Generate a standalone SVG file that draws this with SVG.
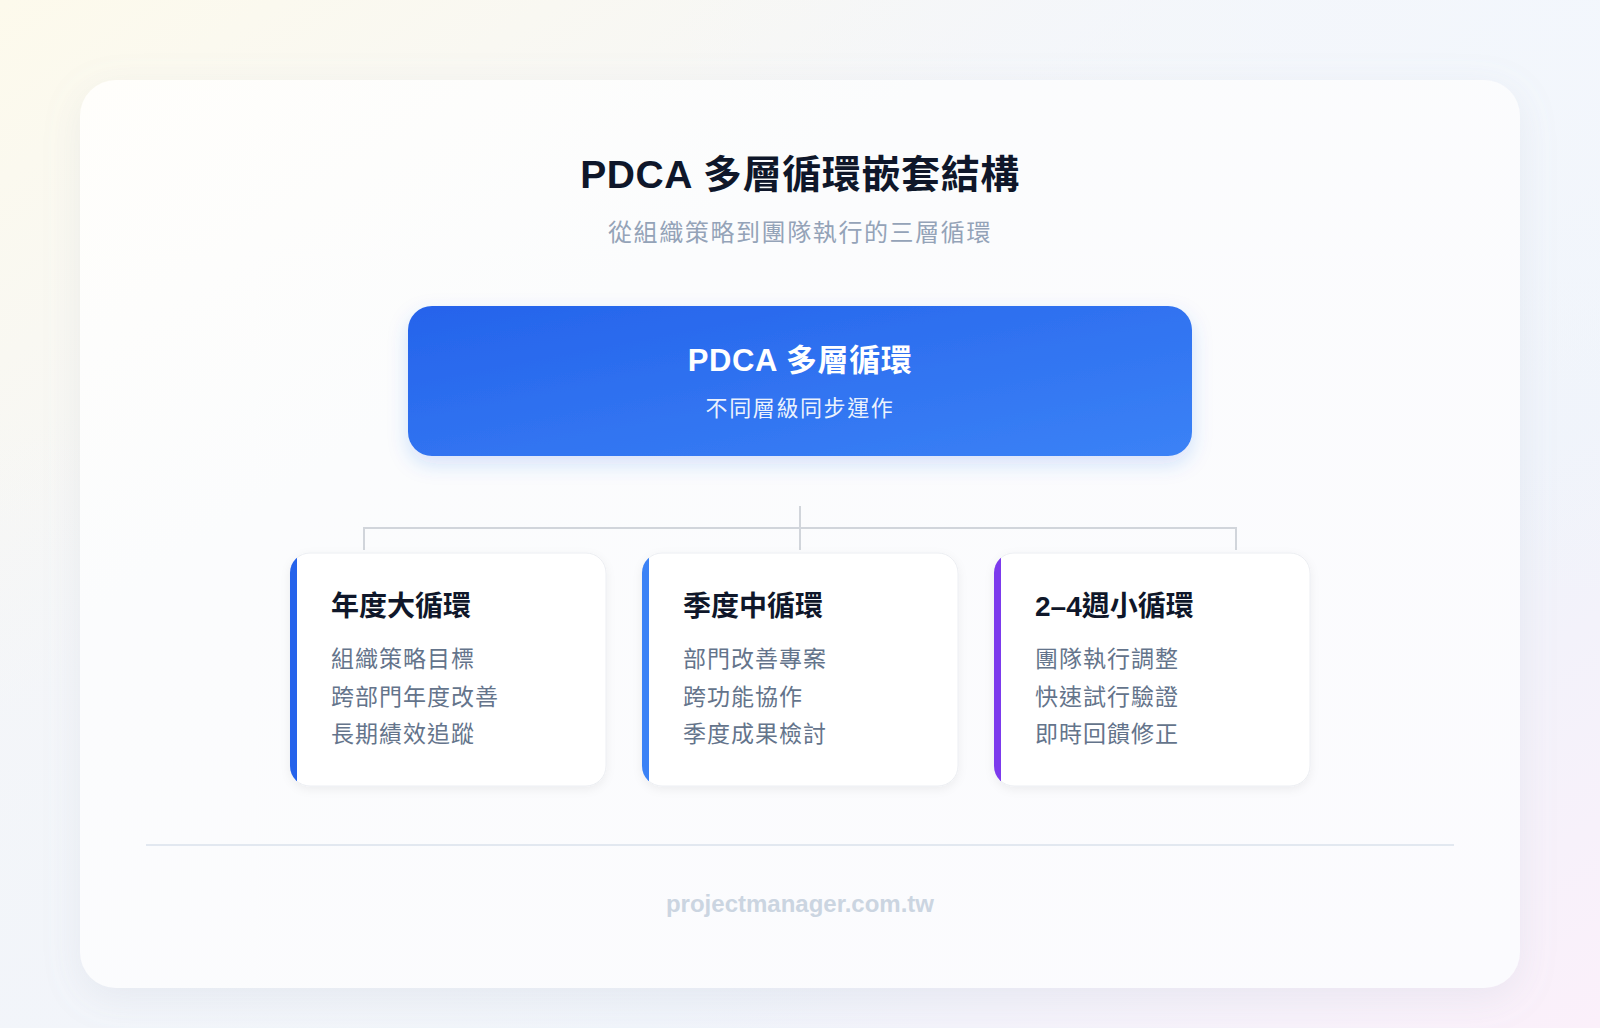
<svg xmlns="http://www.w3.org/2000/svg" width="1600" height="1028" viewBox="0 0 1600 1028">
  <defs>
    <linearGradient id="bgA" x1="0" y1="0" x2="1" y2="1">
      <stop offset="0" stop-color="#fdfaec"/>
      <stop offset="0.35" stop-color="#f5f6f8"/>
      <stop offset="0.7" stop-color="#eff3fa"/>
      <stop offset="1" stop-color="#fbf0fa"/>
    </linearGradient>
    <radialGradient id="bgTR" cx="1" cy="0" r="0.6">
      <stop offset="0" stop-color="#f3f7fd" stop-opacity="0.9"/>
      <stop offset="1" stop-color="#f3f7fd" stop-opacity="0"/>
    </radialGradient>
    <radialGradient id="bgBL" cx="0" cy="1" r="0.6">
      <stop offset="0" stop-color="#f2f5fa" stop-opacity="0.9"/>
      <stop offset="1" stop-color="#f2f5fa" stop-opacity="0"/>
    </radialGradient>
    <linearGradient id="panelG" x1="0" y1="0" x2="1" y2="1">
      <stop offset="0" stop-color="#fffefb"/>
      <stop offset="0.3" stop-color="#fbfcfd"/>
      <stop offset="1" stop-color="#fbfbfe"/>
    </linearGradient>
    <linearGradient id="blueG" x1="0" y1="0" x2="1" y2="1">
      <stop offset="0" stop-color="#2563eb"/>
      <stop offset="1" stop-color="#3b82f6"/>
    </linearGradient>
    <filter id="panelShadow" x="-10%" y="-10%" width="120%" height="125%">
      <feDropShadow dx="0" dy="10" stdDeviation="18" flood-color="#94a3b8" flood-opacity="0.14"/>
    </filter>
    <filter id="blueShadow" x="-10%" y="-30%" width="120%" height="170%">
      <feDropShadow dx="0" dy="8" stdDeviation="10" flood-color="#2563eb" flood-opacity="0.18"/>
    </filter>
    <filter id="cardShadow" x="-10%" y="-10%" width="120%" height="125%">
      <feDropShadow dx="0" dy="3" stdDeviation="5" flood-color="#0f172a" flood-opacity="0.06"/>
    </filter>
    <clipPath id="cardClip">
      <rect x="0" y="0" width="316" height="233" rx="20"/>
    </clipPath>
    <style>
      text { font-family: "Liberation Sans", "Noto Sans CJK TC", sans-serif; }
      .title { font-size: 39px; font-weight: 700; fill: #0f172a; letter-spacing: 0.6px; }
      .subtitle { font-size: 24px; fill: #94a3b8; letter-spacing: 1.6px; }
      .boxTitle { font-size: 31px; font-weight: 700; fill: #ffffff; letter-spacing: 0.6px; }
      .boxSub { font-size: 22px; fill: #ffffff; fill-opacity: 0.92; letter-spacing: 1.6px; }
      .cardTitle { font-size: 28px; font-weight: 700; fill: #0f172a; }
      .cardText { font-size: 23px; fill: #64748b; letter-spacing: 1px; }
      .footer { font-size: 24px; font-weight: 700; fill: #cbd5e1; }
      .conn { stroke: #d1d5db; stroke-width: 2; fill: none; }
      .cardBg { fill: #ffffff; stroke: #eceef2; stroke-width: 1; }
    </style>
  </defs>

  <!-- background -->
  <rect x="0" y="0" width="1600" height="1028" fill="url(#bgA)"/>
  <rect x="0" y="0" width="1600" height="1028" fill="url(#bgTR)"/>
  <rect x="0" y="0" width="1600" height="1028" fill="url(#bgBL)"/>

  <!-- panel -->
  <g id="panel">
    <rect x="80" y="80" width="1440" height="908" rx="36" fill="url(#panelG)" filter="url(#panelShadow)"/>
  </g>

  <g id="header">
    <text class="title" x="800" y="188" text-anchor="middle">PDCA 多層循環嵌套結構</text>
    <text class="subtitle" x="800" y="241" text-anchor="middle">從組織策略到團隊執行的三層循環</text>
  </g>

  <g id="root">
    <rect x="408" y="306" width="784" height="150" rx="24" fill="url(#blueG)" filter="url(#blueShadow)"/>
    <text class="boxTitle" x="800" y="371" text-anchor="middle">PDCA 多層循環</text>
    <text class="boxSub" x="800" y="416" text-anchor="middle">不同層級同步運作</text>
  </g>

  <g id="connectors">
    <line class="conn" x1="800" y1="506" x2="800" y2="550"/>
    <line class="conn" x1="363" y1="528" x2="1237" y2="528"/>
    <line class="conn" x1="364" y1="527" x2="364" y2="550"/>
    <line class="conn" x1="1236" y1="527" x2="1236" y2="550"/>
  </g>

  <g id="card-annual" transform="translate(290,553)">
    <rect class="cardBg" x="0" y="0" width="316" height="233" rx="20" filter="url(#cardShadow)"/>
    <rect x="0" y="0" width="7" height="233" fill="#2563eb" clip-path="url(#cardClip)"/>
    <text class="cardTitle" x="41" y="63">年度大循環</text>
    <text class="cardText" x="41" y="114">組織策略目標</text>
    <text class="cardText" x="41" y="152">跨部門年度改善</text>
    <text class="cardText" x="41" y="189">長期績效追蹤</text>
  </g>

  <g id="card-quarter" transform="translate(642,553)">
    <rect class="cardBg" x="0" y="0" width="316" height="233" rx="20" filter="url(#cardShadow)"/>
    <rect x="0" y="0" width="7" height="233" fill="#3b82f6" clip-path="url(#cardClip)"/>
    <text class="cardTitle" x="41" y="63">季度中循環</text>
    <text class="cardText" x="41" y="114">部門改善專案</text>
    <text class="cardText" x="41" y="152">跨功能協作</text>
    <text class="cardText" x="41" y="189">季度成果檢討</text>
  </g>

  <g id="card-weekly" transform="translate(994,553)">
    <rect class="cardBg" x="0" y="0" width="316" height="233" rx="20" filter="url(#cardShadow)"/>
    <rect x="0" y="0" width="7" height="233" fill="#7c3aed" clip-path="url(#cardClip)"/>
    <text class="cardTitle" x="41" y="63">2–4週小循環</text>
    <text class="cardText" x="41" y="114">團隊執行調整</text>
    <text class="cardText" x="41" y="152">快速試行驗證</text>
    <text class="cardText" x="41" y="189">即時回饋修正</text>
  </g>

  <g id="footer">
    <line x1="146" y1="845" x2="1454" y2="845" stroke="#e2e8f0" stroke-width="2"/>
    <text class="footer" x="800" y="912" text-anchor="middle">projectmanager.com.tw</text>
  </g>
</svg>
